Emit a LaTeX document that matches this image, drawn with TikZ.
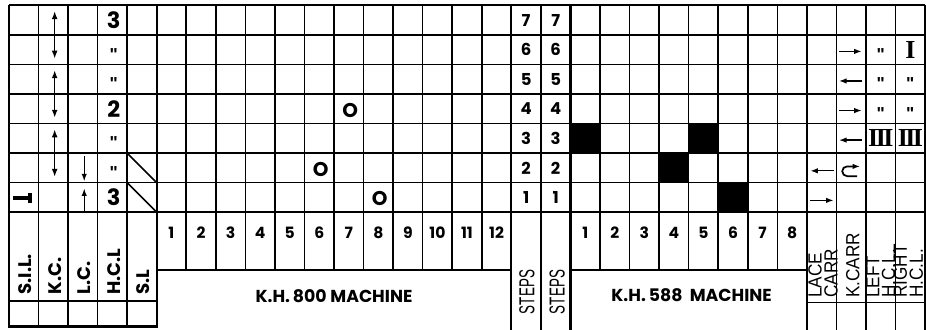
\documentclass[tikz,border=0pt]{standalone}
\usepackage{fontspec}
\setmainfont{Poppins}
\newfontfamily\carrfont[FakeStretch=0.9]{Liberation Sans}
\newfontfamily\stepfont[FakeStretch=0.62]{Liberation Sans}
\newfontfamily\dittofont{Liberation Sans}
\newfontfamily\romfont{Liberation Serif}
\usetikzlibrary{arrows.meta}
\tikzstyle{grd}=[line width=0.9pt]
\tikzstyle{frm}=[line width=1.3pt]
\tikzstyle{num}=[inner sep=0pt, font=\bfseries\fontsize{9}{10}\selectfont]
\tikzstyle{stepnum}=[inner sep=0pt, font=\bfseries\fontsize{9.5}{10}\selectfont]
\tikzstyle{big}=[inner sep=0pt, font=\bfseries\fontsize{13}{13}\selectfont]
\tikzstyle{ditto}=[inner sep=0pt, yshift=-2.6pt, font=\dittofont\bfseries\fontsize{10}{10}\selectfont]
\tikzstyle{rom}=[inner sep=0pt, font=\romfont\bfseries\fontsize{15}{15}\selectfont]
\tikzstyle{ring}=[inner sep=0pt, font=\bfseries\fontsize{11.5}{12}\selectfont]
\tikzstyle{colhead}=[rotate=90, anchor=west, inner sep=0pt, font=\bfseries\fontsize{10.5}{10.5}\selectfont]
\tikzstyle{carrhead}=[rotate=90, anchor=west, inner sep=0pt, align=left, font=\carrfont\fontsize{11}{9.2}\selectfont]
\tikzstyle{stephead}=[rotate=90, inner sep=0pt, font=\stepfont\fontsize{12.5}{12.5}\selectfont]
\tikzstyle{mach}=[inner sep=0pt, font=\bfseries\fontsize{10}{10}\selectfont]
\tikzstyle{ar}=[-{Latex[length=1.5mm, width=1.1mm]}, line width=0.7pt]
\tikzstyle{dar}=[{Latex[length=1.6mm, width=1.2mm]}-{Latex[length=1.6mm, width=1.2mm]}, line width=0.8pt]

\begin{document}
\begin{tikzpicture}[x=0.6cm, y=0.6cm]
    \useasboundingbox (-0.3,-3.98) rectangle (31.03,7.18);
    \foreach \c/\s in {19/3, 23/3, 22/2, 24/1}
        \fill (\c,\s-1) rectangle ++(1,1);
    \foreach \y in {1,...,6} \draw[grd] (0,\y) -- (31,\y);
    \foreach \x in {1,...,4} \draw[grd] (\x,7) -- (\x,-3.87);
    \foreach \x in {6,...,16} \draw[grd] (\x,7) -- (\x,-1.95);
    \foreach \x in {20,...,26} \draw[grd] (\x,7) -- (\x,-1.95);
    \foreach \x in {18,28,29,30} \draw[grd] (\x,7) -- (\x,-4);
    \draw[frm] (0,7) -- (31,7) (0,0) -- (31,0);
    \draw[frm] (0,7) -- (0,-3.87) -- (5,-3.87) -- (5,7);
    \draw[frm] (17,7) -- (17,-4) (19,7) -- (19,-4);
    \draw[frm] (27,7) -- (27,-4) (31,7) -- (31,-4);
    \draw[grd] (0,-3) -- (5,-3);
    \draw[frm] (5,-1.95) -- (17,-1.95) (19,-1.95) -- (27,-1.95);
    \draw[grd] (27,-3.05) -- (31,-3.05);
    \draw[grd] (4,2) -- (5,1) (4,1) -- (5,0);

    \foreach \s/\t in {7/3, 4/2, 1/3}
        \node[big] (hcl\s) at (3.55,\s-0.5) {\t};
    \foreach \s in {6,5,3,2}
        \node[ditto] (hcl\s) at (3.55,\s-0.5) {"};
    \foreach \s in {1,...,7} {
        \node[stepnum] (sa\s) at (17.5,\s-0.5) {\s};
        \node[stepnum] (sb\s) at (18.5,\s-0.5) {\s};
    }
    \foreach \i in {1,...,12}
        \node[num] (kh\i) at (4.5+\i,-0.7) {\i};
    \foreach \i in {1,...,8}
        \node[num] (kk\i) at (18.5+\i,-0.7) {\i};
    \node[ring] (o4) at (11.55,3.45) {O};
    \node[ring] (o2) at (10.55,1.45) {O};
    \node[ring] (o1) at (12.55,0.45) {O};

    \foreach \x/\t in {0/S.I.L., 1/K.C., 2/L.C., 3/H.C.L, 4/S.L}
        \node[colhead] (h\x) at (\x+0.55,-2.8) {\t};
    \node[mach] (kh800) at (11,-2.85) {K.H.\,800 MACHINE};
    \node[mach] (kh588) at (23.1,-2.8) {K.H.\,588\ \ MACHINE};
    \node[stephead] (st1) at (17.53,-2.7) {STEPS};
    \node[stephead] (st2) at (18.55,-2.7) {STEPS};
    \node[carrhead] (lace) at (27.55,-2.9) {LACE\\CARR};
    \node[carrhead] (kcarr) at (28.55,-2.9) {K.CARR};
    \node[carrhead] (lhcl) at (29.5,-2.9) {LEFT\\H.C.L.};
    \node[carrhead] (rhcl) at (30.43,-2.9) {RIGHT\\H.C.L.};

    \foreach \a/\b in {6.8/5.2, 4.8/3.2, 2.8/1.2}
        \draw[dar] (1.55,\a) -- (1.55,\b);
    \draw[ar] (2.55,1.9) -- (2.55,1.05);
    \draw[ar] (2.55,0) -- (2.55,0.8);
    \draw[line width=2.4pt] (0.15,0.47) -- (0.7,0.47);
    \draw[line width=2.2pt] (0.72,0.3) -- (0.72,0.64);

    \foreach \s/\d in {6/1, 5/-1, 4/1, 3/-1}
        \draw[ar] (28.47-0.38*\d,\s-0.56) -- (28.47+0.38*\d,\s-0.56);
    \draw[ar] (27.92,1.4) -- (27.12,1.4);
    \draw[ar] (27.1,0.4) -- (27.9,0.4);
    \draw[ar, line width=1pt] (28.7,1.22) -- (28.36,1.22)
        arc[start angle=270, end angle=90, radius=0.165] -- (28.8,1.55);
    \foreach \s in {6,5,4}
        \node[ditto] (lh\s) at (29.5,\s-0.5) {"};
    \foreach \s in {5,4}
        \node[ditto] (rh\s) at (30.5,\s-0.5) {"};
    \node[rom] (rh6) at (30.5,5.5) {I};
    \node[rom] (lh3) at (29.5,2.5) {I\kern-1.5pt I\kern-1.5pt I};
    \node[rom] (rh3) at (30.5,2.5) {I\kern-1.5pt I\kern-1.5pt I};
\end{tikzpicture}
\end{document}
